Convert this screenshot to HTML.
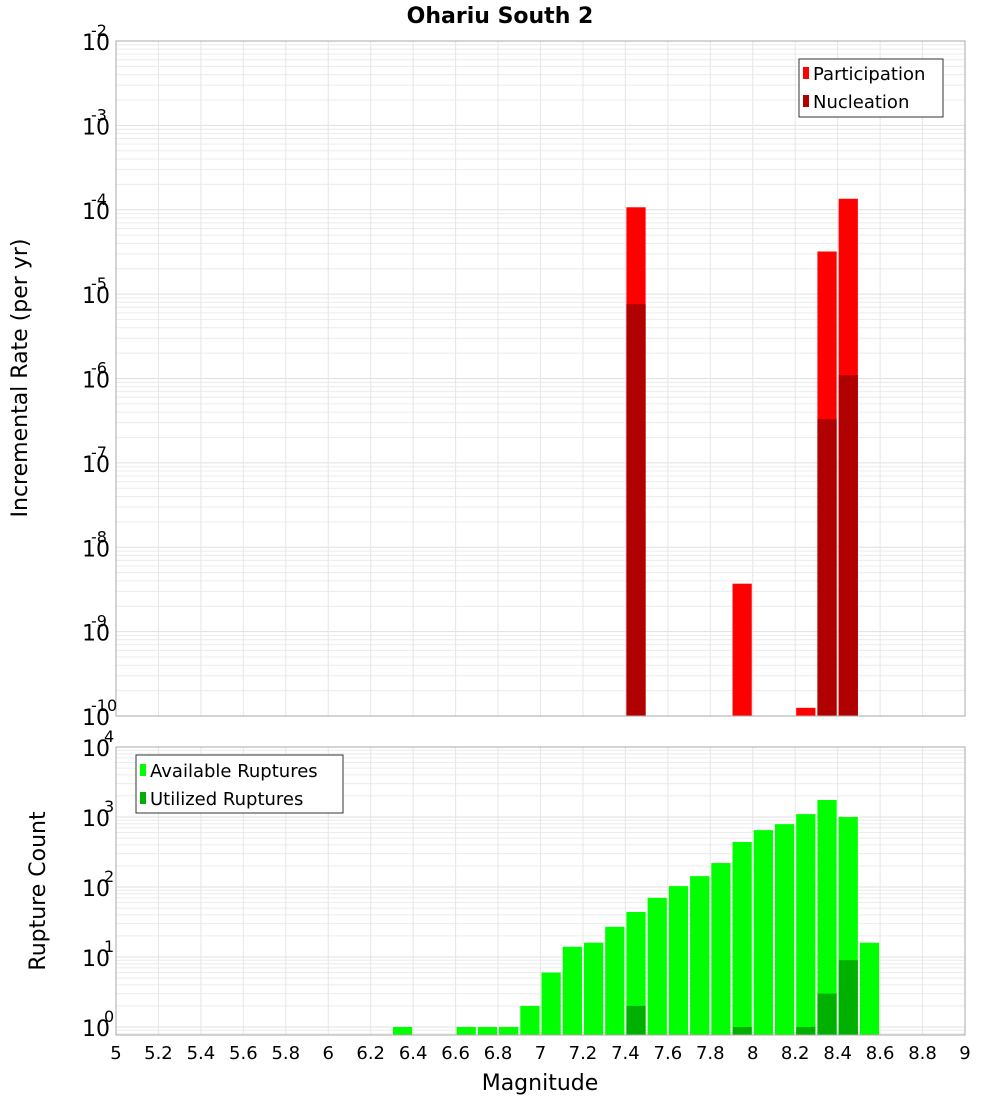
<!DOCTYPE html>
<html><head><meta charset="utf-8"><style>
body{margin:0;background:#fff;font-family:"Liberation Sans","DejaVu Sans",sans-serif;}
svg text{font-family:"DejaVu Sans","Liberation Sans",sans-serif;}
</style></head><body>
<svg id="chart" width="1000" height="1100" xmlns="http://www.w3.org/2000/svg">
<text x="500" y="23" text-anchor="middle" font-size="22" font-weight="bold">Ohariu South 2</text>
<g id="top"></g><g id="bot"></g>
<text transform="translate(27,378) rotate(-90)" text-anchor="middle" font-size="22">Incremental Rate (per yr)</text>
<text transform="translate(45,891) rotate(-90)" text-anchor="middle" font-size="22">Rupture Count</text>
<text x="540" y="1090" text-anchor="middle" font-size="22">Magnitude</text>
</svg>
<script>
const rateBins=[7.45,7.95,8.25,8.35,8.45];
const participation=[1.07e-4,3.7e-9,1.25e-10,3.2e-5,1.35e-4];
const nucleation=[7.6e-6,0,0,3.3e-7,1.1e-6];
const countBins=[6.35,6.65,6.75,6.85,6.95,7.05,7.15,7.25,7.35,7.45,7.55,7.65,7.75,7.85,7.95,8.05,8.15,8.25,8.35,8.45,8.55];
const available=[1,1,1,1,2,6,14,16,27,44,70,103,143,220,440,650,790,1100,1750,1000,16];
const utilized=[0,0,0,0,0,0,0,0,0,2,0,0,0,0,1,0,0,1,3,9,0];
const xTicks=[5,5.2,5.4,5.6,5.8,6,6.2,6.4,6.6,6.8,7,7.2,7.4,7.6,7.8,8,8.2,8.4,8.6,8.8,9];
const topExps=[-10,-9,-8,-7,-6,-5,-4,-3,-2];
const botExps=[0,1,2,3,4];

const NS="http://www.w3.org/2000/svg";
const L=116,R=965;
const xs=m=>L+(m-5)/4*(R-L);
function mk(p,t,a){const e=document.createElementNS(NS,t);for(const k in a)e.setAttribute(k,a[k]);p.appendChild(e);return e;}
function panel(g,top,bot,lo,hi,yFn){
  mk(g,'rect',{x:L,y:top,width:R-L,height:bot-top,fill:'#fff'});
  for(let e=Math.floor(lo);e<hi;e++)for(let k=1;k<10;k++){const v=Math.log10(k)+e;if(v<lo||v>hi)continue;const y=yFn(v);
    const l=mk(g,'line',{x1:L,x2:R,y1:y,y2:y,stroke:k==1?'#e0e0e0':'#ececec','stroke-width':1});
    
    }
  xTicks.forEach(t=>{const x=xs(t);const l=mk(g,'line',{x1:x,x2:x,y1:top,y2:bot,stroke:'#e6e6e6'});
    
    });
}
// top
const tg=document.getElementById('top');
const tTop=41,tBot=716,tLo=-10,tHi=-2;
const ty=v=>tBot-(v-tLo)/(tHi-tLo)*(tBot-tTop);
panel(tg,tTop,tBot,tLo,tHi,ty);
const bw=0.1*(R-L)/4;
rateBins.forEach((m,i)=>{
  const x=xs(m)-bw/2+1;
  if(participation[i]>0){const y=ty(Math.log10(participation[i]));const r=mk(tg,'rect',{x:x,y:y,width:bw-2,height:tBot-y,fill:'#ff0000'});
    
    }
  if(nucleation[i]>0){const y=ty(Math.log10(nucleation[i]));const r=mk(tg,'rect',{x:x,y:y,width:bw-2,height:tBot-y,fill:'#b00000'});
    
    }
});
mk(tg,'rect',{x:L,y:tTop,width:R-L,height:tBot-tTop,fill:'none',stroke:'#aaa'});
topExps.forEach(e=>{const y=ty(e);const t=mk(tg,'text',{x:110,y:y+9,'text-anchor':'end','font-size':22});t.textContent='10';
  
  
  const s=mk(tg,'text',{x:91,y:y-5,'font-size':16});s.textContent=String(e);
  
  });
// top legend
const lg=mk(tg,'g',{});


mk(lg,'rect',{x:799,y:59,width:144,height:58,fill:'#fff',stroke:'#333'});
mk(lg,'rect',{x:803,y:67,width:6,height:12,fill:'#ff0000'});
mk(lg,'rect',{x:803,y:95,width:6,height:12,fill:'#b00000'});
let t1=mk(lg,'text',{x:813,y:80,'font-size':18});t1.textContent='Participation';
let t2=mk(lg,'text',{x:813,y:108,'font-size':18});t2.textContent='Nucleation';
// bottom
const bg=document.getElementById('bot');
const bTop=747,bBot=1035,bHi=4;
const dec=70,bLo=-(bBot-1027)/dec;
const by=v=>1027-v*dec;
panel(bg,bTop,bBot,bLo,bHi,by);
countBins.forEach((m,i)=>{
  const x=xs(m)-bw/2+1;
  if(available[i]>0){const y=by(Math.log10(available[i]));const r=mk(bg,'rect',{x:x,y:y,width:bw-2,height:bBot-y,fill:'#00ff00'});
    
    }
  if(utilized[i]>0){const y=by(Math.log10(utilized[i]));const r=mk(bg,'rect',{x:x,y:y,width:bw-2,height:bBot-y,fill:'#00b000'});
    
    }
});
mk(bg,'rect',{x:L,y:bTop,width:R-L,height:bBot-bTop,fill:'none',stroke:'#aaa'});
botExps.forEach(e=>{const y=by(e);const t=mk(bg,'text',{x:110,y:y+9,'text-anchor':'end','font-size':22});t.textContent='10';
  
  
  const s=mk(bg,'text',{x:104,y:y-5,'font-size':16});s.textContent=String(e);
  
  });
xTicks.forEach(t=>{const x=xs(t);const e=mk(bg,'text',{x:x,y:1059,'text-anchor':'middle','font-size':18});e.textContent=String(t);
  
  });
const lg2=mk(bg,'g',{});


mk(lg2,'rect',{x:136,y:755,width:207,height:58,fill:'#fff',stroke:'#333'});
mk(lg2,'rect',{x:140,y:764,width:6,height:12,fill:'#00ff00'});
mk(lg2,'rect',{x:140,y:792,width:6,height:12,fill:'#00b000'});
let t3=mk(lg2,'text',{x:150,y:777,'font-size':18});t3.textContent='Available Ruptures';
let t4=mk(lg2,'text',{x:150,y:805,'font-size':18});t4.textContent='Utilized Ruptures';
</script>
</body></html>
